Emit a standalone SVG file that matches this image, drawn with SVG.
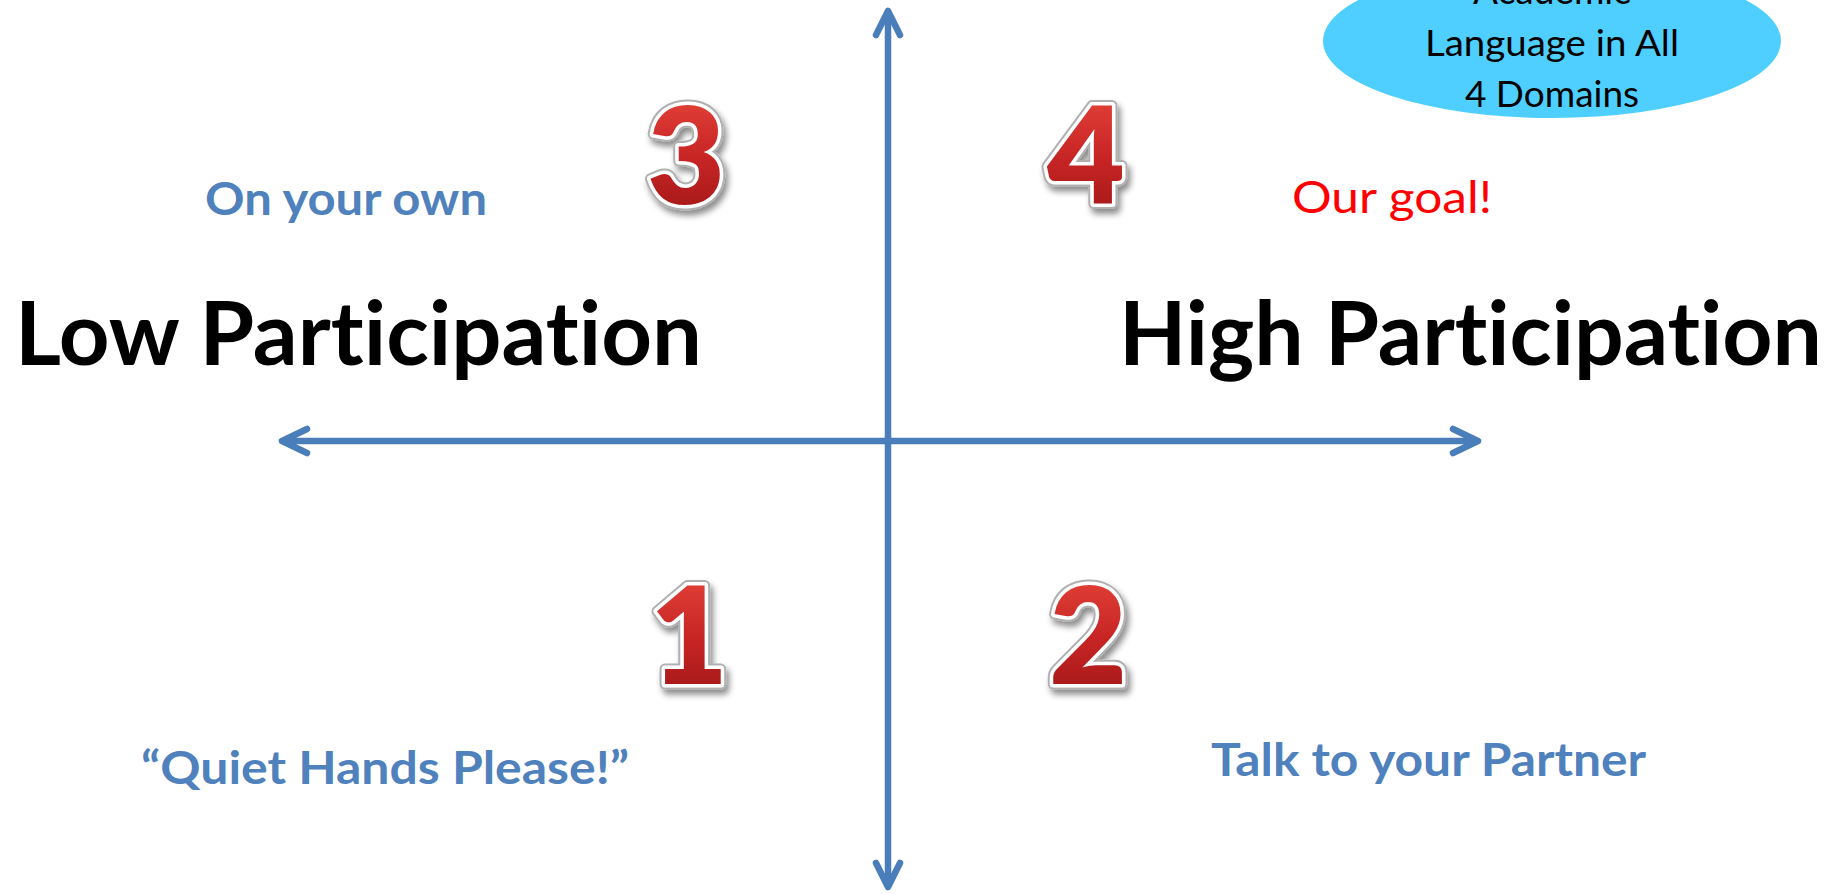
<svg xmlns="http://www.w3.org/2000/svg" width="1836" height="894" viewBox="0 0 1836 894">
  <defs>
    <linearGradient id="numFill" x1="0" y1="0" x2="0" y2="1">
      <stop offset="0" stop-color="#EC4A3E"/>
      <stop offset="0.55" stop-color="#C62424"/>
      <stop offset="1" stop-color="#991414"/>
    </linearGradient>
    <filter id="numShadow" x="-30%" y="-30%" width="160%" height="160%">
      <feDropShadow dx="3" dy="5" stdDeviation="3" flood-color="#000" flood-opacity="0.45"/>
    </filter>
    <style>
      .axis { fill: none; stroke: #4A7EBB; stroke-width: 6.5; stroke-linecap: round; stroke-linejoin: round; }
      .sans { font-family: Lato, "Open Sans", "Liberation Sans", sans-serif; font-variant-ligatures: none; font-feature-settings: "liga" 0, "clig" 0; }
      .hint { font-weight: 700; font-size: 45px; fill: #4F81BD; }
      .big { font-weight: 700; font-size: 88px; fill: #000; }
      .goal { font-weight: 400; font-size: 45px; fill: #FF0000; }
      .oval-text { font-weight: 400; font-size: 37px; fill: #000; text-anchor: middle; }
      .num-back { font-weight: 800; font-size: 134px; text-anchor: middle; fill: #C8C8C8; stroke: #B0B0B0; stroke-width: 11; stroke-linejoin: round; filter: url(#numShadow); }
      .num { font-weight: 800; font-size: 134px; text-anchor: middle; fill: url(#numFill); stroke: #FFFFFF; stroke-width: 7; stroke-linejoin: round; paint-order: stroke; }
    </style>
  </defs>

  <rect width="1836" height="894" fill="#FFFFFF"/>

  <!-- axes -->
  <g id="connectors">
    <line class="axis" x1="284" y1="441" x2="1476" y2="441"/>
    <polyline class="axis" points="307,429 282,441 307,453"/>
    <polyline class="axis" points="1453,429 1478,441 1453,453"/>
    <line class="axis" x1="888" y1="13" x2="888" y2="885"/>
    <polyline class="axis" points="876,35 888,11 900,35"/>
    <polyline class="axis" points="876,863 888,887 900,863"/>
  </g>

  <!-- goal bubble -->
  <g id="node-domains">
    <ellipse cx="1552" cy="41" rx="229" ry="77" fill="#4ECFFF"/>
    <text class="sans oval-text" x="1552" y="4">Academic</text>
    <text class="sans oval-text" x="1552" y="56" textLength="254" lengthAdjust="spacingAndGlyphs">Language in All</text>
    <text class="sans oval-text" x="1552" y="107">4 Domains</text>
  </g>

  <!-- axis labels -->
  <g id="node-low">
    <text class="sans big" x="15" y="365" textLength="687" lengthAdjust="spacingAndGlyphs">Low Participation</text>
  </g>
  <g id="node-high">
    <text class="sans big" x="1119" y="365" textLength="703" lengthAdjust="spacingAndGlyphs">High Participation</text>
  </g>

  <!-- quadrant captions -->
  <g id="node-own">
    <text class="sans hint" x="205" y="215" textLength="282" lengthAdjust="spacingAndGlyphs">On your own</text>
  </g>
  <g id="node-goal">
    <text class="sans goal" x="1292" y="213" textLength="200" lengthAdjust="spacingAndGlyphs">Our goal!</text>
  </g>
  <g id="node-quiet">
    <text class="sans hint" x="141" y="784" textLength="488" lengthAdjust="spacingAndGlyphs">“Quiet Hands Please!”</text>
  </g>
  <g id="node-partner">
    <text class="sans hint" x="1211" y="776" textLength="435" lengthAdjust="spacingAndGlyphs">Talk to your Partner</text>
  </g>

  <!-- quadrant numbers -->
  <g id="node-q3">
    <text class="sans num-back" x="686" y="204">3</text>
    <text class="sans num" x="686" y="204">3</text>
  </g>
  <g id="node-q4">
    <text class="sans num-back" x="1086" y="204">4</text>
    <text class="sans num" x="1086" y="204">4</text>
  </g>
  <g id="node-q1">
    <text class="sans num-back" x="689" y="684">1</text>
    <text class="sans num" x="689" y="684">1</text>
  </g>
  <g id="node-q2">
    <text class="sans num-back" x="1088" y="684">2</text>
    <text class="sans num" x="1088" y="684">2</text>
  </g>
</svg>
